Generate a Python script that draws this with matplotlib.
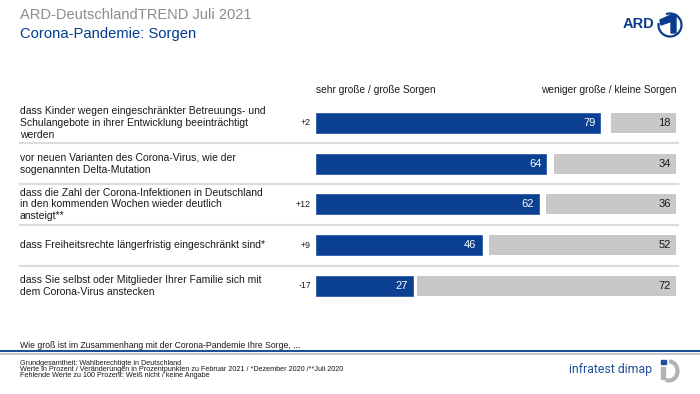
import matplotlib.pyplot as plt
import matplotlib.transforms as mtransforms
from matplotlib.patches import Arc, Polygon, Rectangle

plt.rcParams['font.family'] = ['Liberation Sans', 'DejaVu Sans']

# Daten
items = [
    "dass Kinder wegen eingeschränkter Betreuungs- und\nSchulangebote in ihrer Entwicklung beeinträchtigt\nwerden",
    "vor neuen Varianten des Corona-Virus, wie der\nsogenannten Delta-Mutation",
    "dass die Zahl der Corona-Infektionen in Deutschland\nin den kommenden Wochen wieder deutlich\nansteigt**",
    "dass Freiheitsrechte längerfristig eingeschränkt sind*",
    "dass Sie selbst oder Mitglieder Ihrer Familie sich mit\ndem Corona-Virus anstecken",
]
changes = ['+2', '', '+12', '+9', '-17']
sehr_gross = [79, 64, 62, 46, 27]
weniger = [18, 34, 36, 52, 72]

BLUE = '#0a3f91'
GREY = '#c8c8c8'
LINE = '#dcdcdc'

W, H = 700, 394
fig = plt.figure(figsize=(7, 3.94), dpi=100)

# Deko-Achse in Pixelkoordinaten
deco = fig.add_axes([0, 0, 1, 1], zorder=0)
deco.set_xlim(0, W)
deco.set_ylim(H, 0)
deco.axis('off')

# Balken-Achse
ax = fig.add_axes([316 / W, 1 - 306.35 / H, 360 / W, 203.75 / H], zorder=2)
ax.set_xlim(0, 100)
ax.set_ylim(4.5, -0.5)
ax.axis('off')

rows = list(range(len(items)))
ax.barh(rows, sehr_gross, height=0.49, color=BLUE, edgecolor='#2a5aa8', linewidth=0.6)
ax.barh(rows, weniger, left=[100 - v for v in weniger], height=0.49, color=GREY)

for i in rows:
    ax.text(sehr_gross[i] - 1.4, i, str(sehr_gross[i]), color='white',
            ha='right', va='center', fontsize=8)
    ax.text(98.6, i, str(weniger[i]), color='#1a1a1a',
            ha='right', va='center', fontsize=8)

# Beschriftungen links (x in Figurkoordinaten, y in Daten)
trans = mtransforms.blended_transform_factory(fig.transFigure, ax.transData)
for i in rows:
    ax.text(20 / W, i, items[i], transform=trans, ha='left', va='center',
            fontsize=7.5, color='#1a1a1a', linespacing=1.2, clip_on=False)
    ax.text(311 / W, i, changes[i], transform=trans, ha='right', va='center',
            fontsize=6.3, color='#1a1a1a', clip_on=False)

# Trennlinien
for y in [0.5, 1.5, 2.5, 3.5]:
    ax.plot([20 / W, 678 / W], [y, y], transform=trans, color=LINE,
            lw=1.6, clip_on=False, zorder=0)

# Spaltenkoepfe
deco.text(316, 90, "sehr große / große Sorgen", ha='left', va='center',
          fontsize=7.3, color='#1a1a1a')
deco.text(677, 90, "weniger große / kleine Sorgen", ha='right', va='center',
          fontsize=7.3, color='#1a1a1a')

# Titel
deco.text(20, 15, "ARD-DeutschlandTREND Juli 2021", ha='left', va='center',
          fontsize=10.5, color='#8c8c8c')
deco.text(20, 34, "Corona-Pandemie: Sorgen", ha='left', va='center',
          fontsize=10.6, color='#003c8f')

# ARD-Logo
deco.text(623, 24, "ARD", ha='left', va='center', fontsize=10.5,
          fontweight='bold', color='#0b3b8c')
deco.add_patch(Arc((670, 25), 23, 23, theta1=250, theta2=550,
                   color='#0b3b8c', lw=1.6))
deco.add_patch(Polygon([(660, 20), (672, 14.5), (676, 14.5), (676, 33),
                        (671, 33), (671, 21.5), (661, 25)],
                       closed=True, color='#0b3b8c'))

# Fusszeile
deco.text(20, 345, "Wie groß ist im Zusammenhang mit der Corona-Pandemie Ihre Sorge, ...",
          ha='left', va='center', fontsize=6.2, color='#1a1a1a')
deco.plot([0, W], [351, 351], color='#1f4e9a', lw=1.5)
deco.plot([0, W], [353.5, 353.5], color='#b8bcc4', lw=1.2)

notes = [
    "Grundgesamtheit: Wahlberechtigte in Deutschland",
    "Werte in Prozent / Veränderungen in Prozentpunkten zu Februar 2021 / *Dezember 2020 /**Juli 2020",
    "Fehlende Werte zu 100 Prozent: Weiß nicht / keine Angabe",
]
for k, note in enumerate(notes):
    deco.text(20, 363.5 + 6.2 * k, note, ha='left', va='center',
              fontsize=5.25, color='#1a1a1a')

# infratest dimap Logo
deco.text(652, 370, "infratest dimap", ha='right', va='center',
          fontsize=8.8, color='#1f4e9a', family='Roboto')
deco.add_patch(Arc((669, 371), 17, 19, theta1=-90, theta2=110,
                   color='#b0b4b8', lw=3))
deco.add_patch(Rectangle((661, 367), 4, 12, color='#b0b4b8'))
deco.add_patch(Rectangle((661, 359.5), 4.5, 4.5, color='#1f4e9a'))

fig.savefig('out.png', dpi=100)
